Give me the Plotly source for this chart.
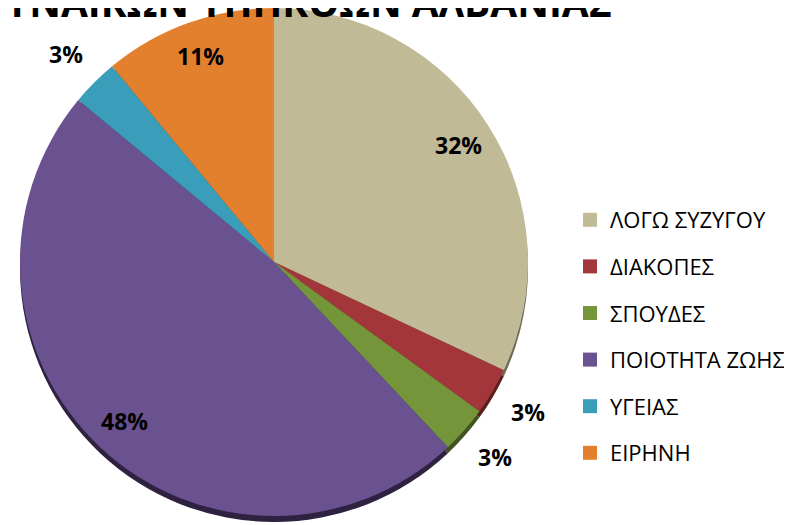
import math

import plotly.graph_objects as go

# data
labels = ["ΛΟΓΩ ΣΥΖΥΓΟΥ", "ΔΙΑΚΟΠΕΣ", "ΣΠΟΥΔΕΣ", "ΠΟΙΟΤΗΤΑ ΖΩΗΣ", "ΥΓΕΙΑΣ", "ΕΙΡΗΝΗ"]
values = [32, 3, 3, 48, 3, 11]
colors = ["#C1BA97", "#A3363A", "#74953A", "#6A5190", "#3A9DBA", "#E3802E"]
shadow_colors = ["#6E6A55", "#5A1E20", "#3F5220", "#2E2240", "#1E5566", "#7A4418"]
title_text = "ΓΥΝΑΙΚΩΝ ΥΠΗΚΟΩΝ ΑΛΒΑΝΙΑΣ"

W, H = 792, 525
FONT = "Open Sans"

# the page body adds ~8px around the plot, so positions below are
# given as seen on screen and shifted back by OFF
OFF = 8
CX, CY, R = 274, 262, 254


def px(x):
    return (x - OFF) / W


def py(y):
    return min(1.0, max(0.0, 1 - (y - OFF) / H))


def pie_domain(cx, cy, r):
    return dict(x=[px(cx - r), px(cx + r)], y=[py(cy + r), py(cy - r)])


fig = go.Figure()

# dark copy a few pixels lower gives the bevel shadow along the bottom edge
fig.add_trace(
    go.Pie(
        labels=labels,
        values=values,
        sort=False,
        direction="clockwise",
        marker=dict(colors=shadow_colors, line=dict(width=0)),
        textinfo="none",
        showlegend=False,
        hoverinfo="skip",
        domain=pie_domain(CX, CY + 6, R),
    )
)

fig.add_trace(
    go.Pie(
        labels=labels,
        values=values,
        sort=False,
        direction="clockwise",
        marker=dict(colors=colors, line=dict(width=0)),
        textinfo="none",
        showlegend=False,
        hoverinfo="label+percent",
        domain=pie_domain(CX, CY, R),
    )
)

# percentage labels: big slices inside near the rim, small ones just outside
total = sum(values)
start = 0
for v in values:
    mid = (start + v / 2) / total * 2 * math.pi
    start += v
    f = 0.86 if v > 5 else 1.16
    fig.add_annotation(
        text=f"{round(v / total * 100)}%",
        xref="paper",
        yref="paper",
        x=px(CX + f * R * math.sin(mid)),
        y=py(CY - f * R * math.cos(mid)),
        xanchor="center",
        yanchor="middle",
        showarrow=False,
        font=dict(family=FONT, size=23, color="black", weight="bold"),
    )

# legend entries, one group each so the spacing can be opened up
for name, color in zip(labels, colors):
    fig.add_trace(
        go.Scatter(
            x=[None],
            y=[None],
            mode="markers",
            name=name,
            legendgroup=name,
            marker=dict(symbol="square", size=14, color=color),
        )
    )

fig.add_annotation(
    text=f"<b>{title_text}</b>",
    xref="paper",
    yref="paper",
    x=606 / W,
    y=1 - 22 / H,
    xanchor="right",
    yanchor="bottom",
    showarrow=False,
    font=dict(family=FONT, size=39, color="black"),
)

fig.update_layout(
    width=W,
    height=H,
    margin=dict(l=0, r=0, t=0, b=0),
    paper_bgcolor="white",
    plot_bgcolor="white",
    xaxis=dict(visible=False),
    yaxis=dict(visible=False),
    legend=dict(
        x=562 / W,
        xanchor="left",
        y=1 - 191 / H,
        yanchor="top",
        font=dict(family=FONT, size=22, color="black"),
        tracegroupgap=15,
        itemwidth=30,
        bgcolor="rgba(0,0,0,0)",
    ),
)

fig.write_html("out.html")
